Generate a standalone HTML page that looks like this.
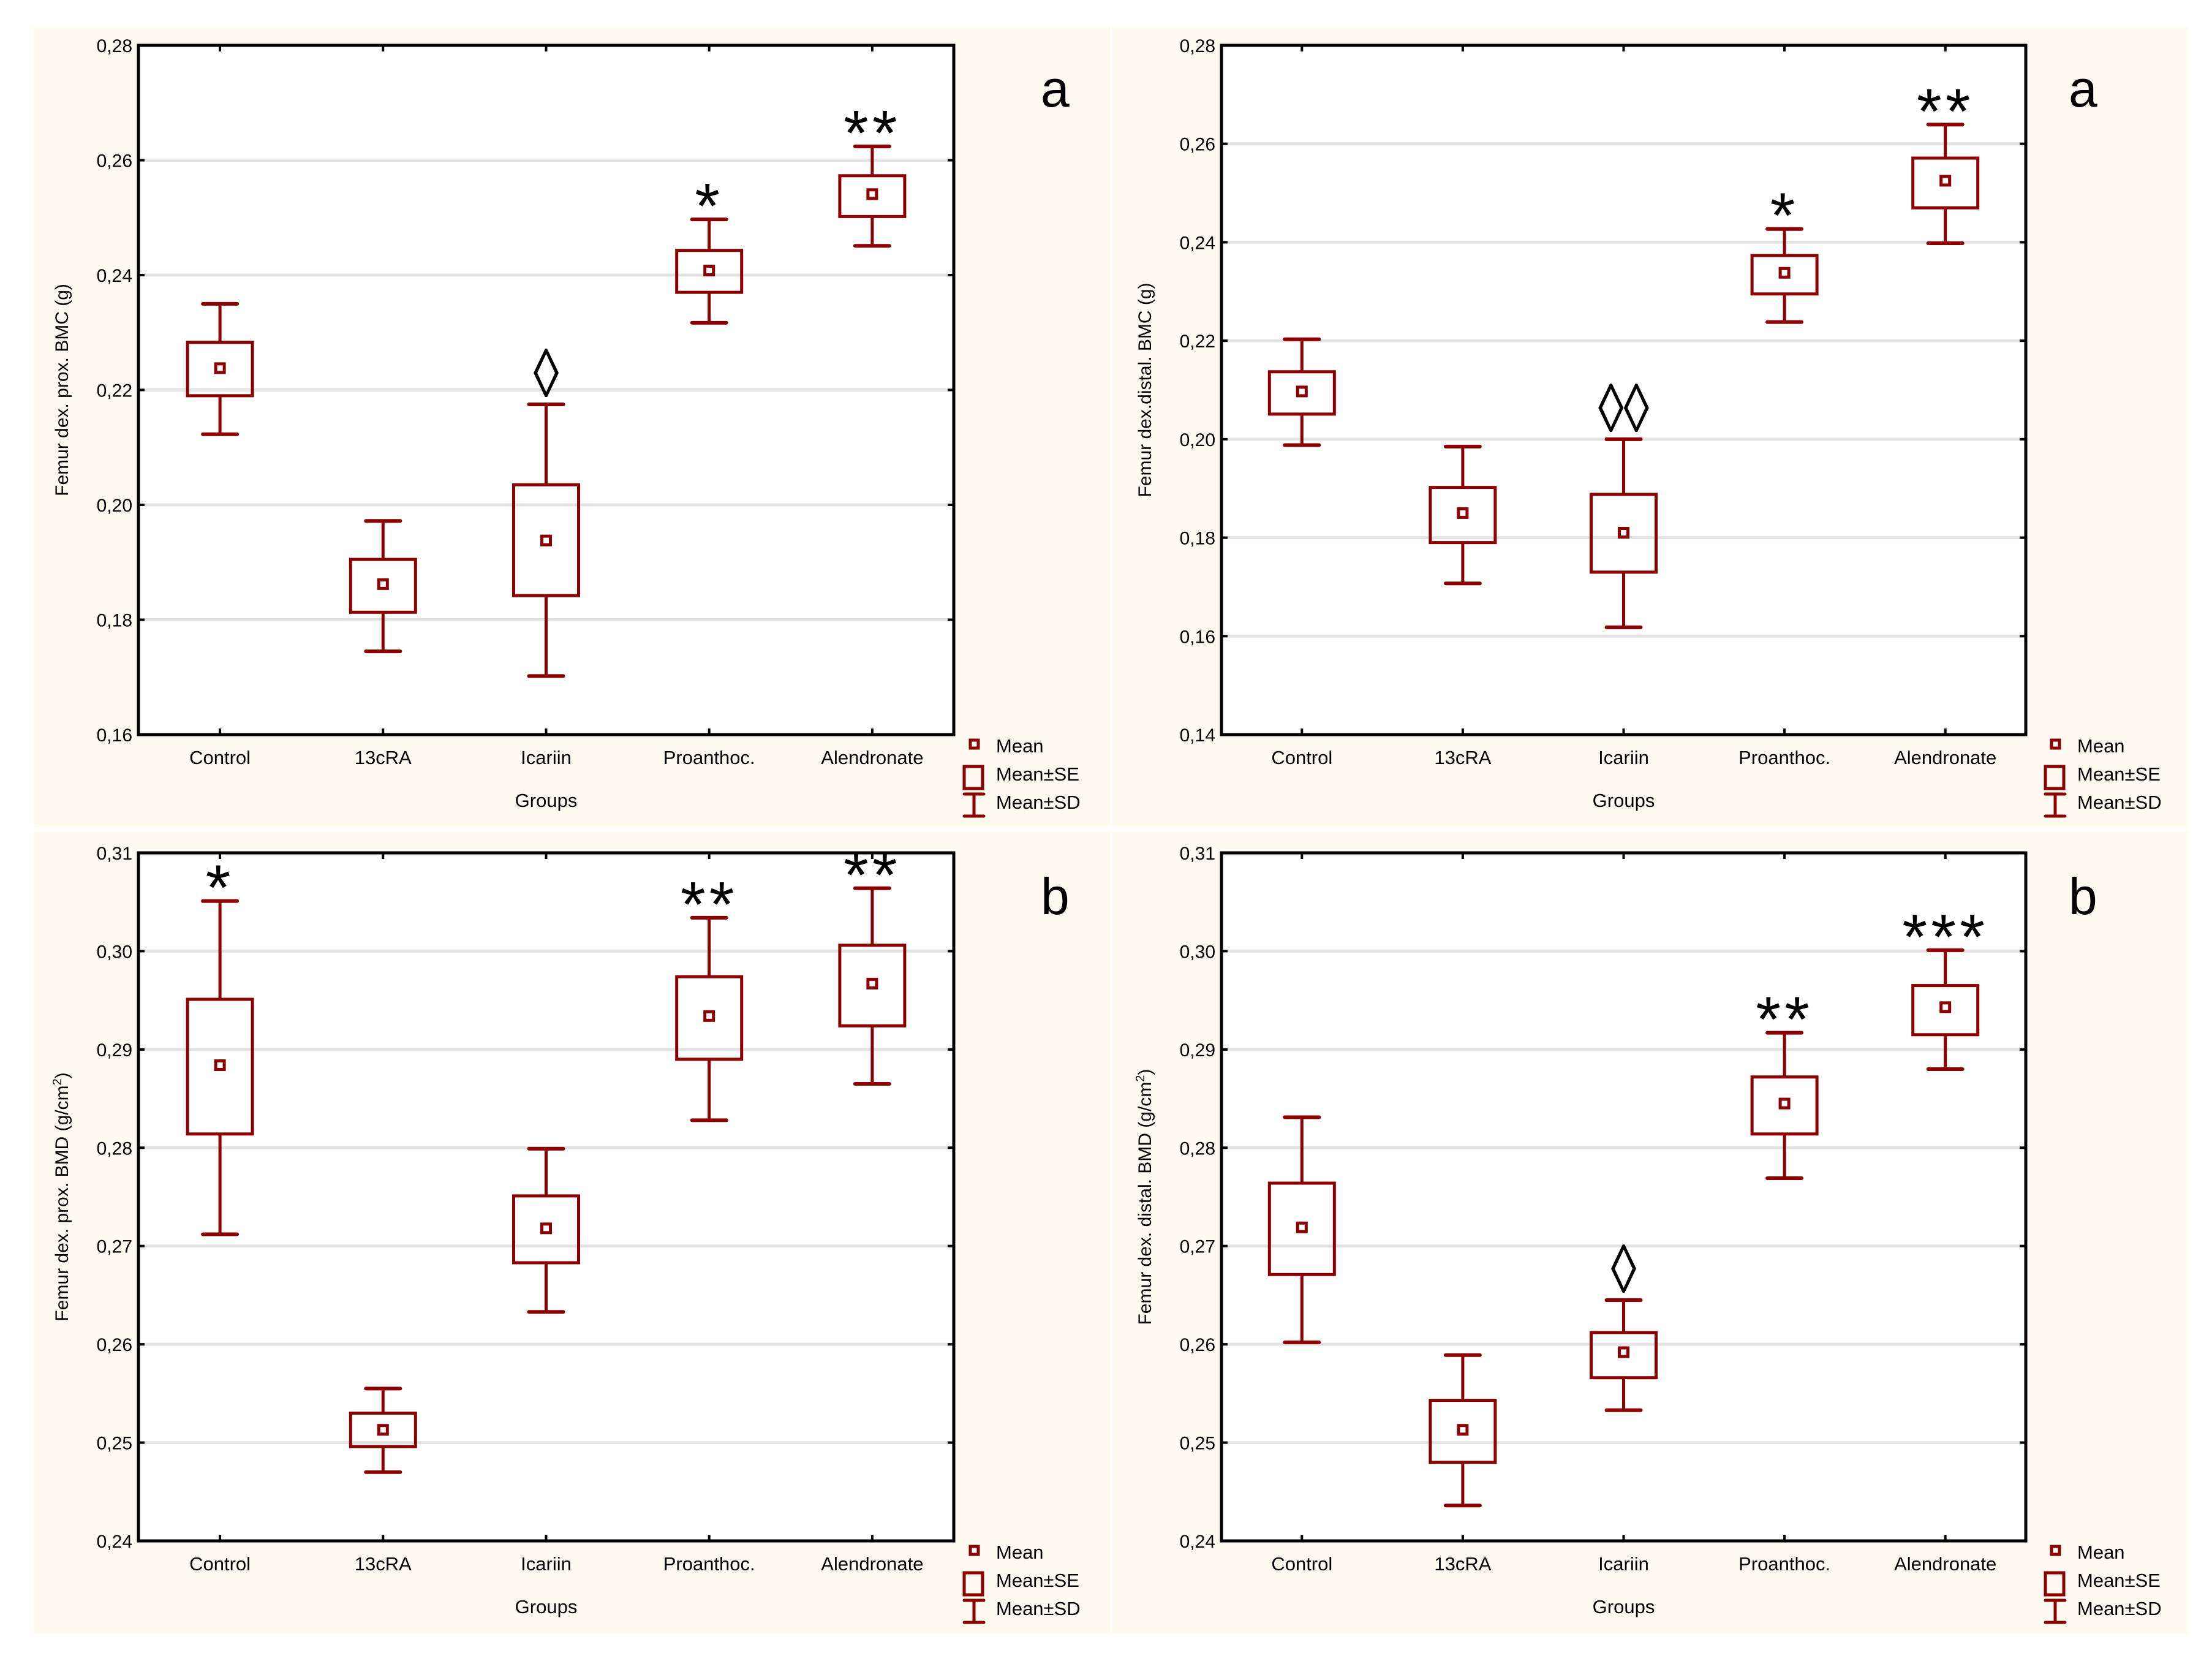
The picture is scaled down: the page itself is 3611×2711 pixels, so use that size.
<!DOCTYPE html>
<html><head><meta charset="utf-8"><style>
html,body{margin:0;padding:0;background:#fff}
svg{display:block}
text{font-family:"Liberation Sans",sans-serif}
</style></head><body>
<svg id="fig" width="3611" height="2711" viewBox="0 0 3611 2711" xmlns="http://www.w3.org/2000/svg"></svg>
<script>
const categories=["Control","13cRA","Icariin","Proanthoc.","Alendronate"];
// panel 1: prox BMC
const p1Mean=[0.2238,0.1862,0.1938,0.2408,0.2541];
const p1SeLo=[0.2190,0.1813,0.1842,0.2370,0.2502];
const p1SeHi=[0.2283,0.1905,0.2035,0.2443,0.2573];
const p1SdLo=[0.2123,0.1745,0.1702,0.2317,0.2451];
const p1SdHi=[0.2350,0.1972,0.2175,0.2497,0.2624];
const p1Marks=["","","◊","*","**"];
const p1Ticks=["0,16","0,18","0,20","0,22","0,24","0,26","0,28"];
// panel 2: distal BMC
const p2Mean=[0.2097,0.1850,0.1810,0.2338,0.2525];
const p2SeLo=[0.2051,0.1790,0.1730,0.2295,0.2470];
const p2SeHi=[0.2137,0.1902,0.1888,0.2373,0.2571];
const p2SdLo=[0.1988,0.1707,0.1618,0.2238,0.2398];
const p2SdHi=[0.2203,0.1985,0.2000,0.2427,0.2639];
const p2Marks=["","","◊◊","*","**"];
const p2Ticks=["0,14","0,16","0,18","0,20","0,22","0,24","0,26","0,28"];
// panel 3: prox BMD
const p3Mean=[0.2884,0.2513,0.2718,0.2934,0.2967];
const p3SeLo=[0.2814,0.2496,0.2683,0.2890,0.2924];
const p3SeHi=[0.2951,0.2530,0.2751,0.2974,0.3006];
const p3SdLo=[0.2712,0.2470,0.2633,0.2828,0.2865];
const p3SdHi=[0.3051,0.2555,0.2799,0.3034,0.3064];
const p3Marks=["*","","","**","**"];
const p3Ticks=["0,24","0,25","0,26","0,27","0,28","0,29","0,30","0,31"];
// panel 4: distal BMD
const p4Mean=[0.2719,0.2513,0.2592,0.2845,0.2943];
const p4SeLo=[0.2671,0.2480,0.2566,0.2814,0.2915];
const p4SeHi=[0.2764,0.2543,0.2612,0.2872,0.2965];
const p4SdLo=[0.2602,0.2436,0.2533,0.2769,0.2880];
const p4SdHi=[0.2831,0.2589,0.2645,0.2917,0.3001];
const p4Marks=["","","◊","**","***"];
const p4Ticks=["0,24","0,25","0,26","0,27","0,28","0,29","0,30","0,31"];

const NS="http://www.w3.org/2000/svg";
const svg=document.getElementById('fig');
const RED="#8b0000";
function mk(tag,attrs,parent,txt){const e=document.createElementNS(NS,tag);for(const k in attrs)e.setAttribute(k,attrs[k]);if(txt!==undefined)e.textContent=txt;(parent||svg).appendChild(e);return e;}

const panels=[
 {bg:[55,44,1757,1306],pl:[226,74,1557,1199],mean:p1Mean,seLo:p1SeLo,seHi:p1SeHi,sdLo:p1SdLo,sdHi:p1SdHi,marks:p1Marks,ticks:p1Ticks,ymin:0.16,ymax:0.28,title:"Femur dex. prox. BMC (g)",letter:"a",sup:false,lo:142,lgo:17},
 {bg:[1815,44,1757,1306],pl:[1994,74,3307,1199],mean:p2Mean,seLo:p2SeLo,seHi:p2SeHi,sdLo:p2SdLo,sdHi:p2SdHi,marks:p2Marks,ticks:p2Ticks,ymin:0.14,ymax:0.28,title:"Femur dex.distal. BMC (g)",letter:"a",sup:false,lo:70,lgo:32},
 {bg:[55,1357,1757,1310],pl:[226,1392,1557,2515],mean:p3Mean,seLo:p3SeLo,seHi:p3SeHi,sdLo:p3SdLo,sdHi:p3SdHi,marks:p3Marks,ticks:p3Ticks,ymin:0.24,ymax:0.31,title:"Femur dex. prox. BMD (g/cm",letter:"b",sup:true,lo:142,lgo:17},
 {bg:[1815,1357,1757,1310],pl:[1994,1392,3307,2515],mean:p4Mean,seLo:p4SeLo,seHi:p4SeHi,sdLo:p4SdLo,sdHi:p4SdHi,marks:p4Marks,ticks:p4Ticks,ymin:0.24,ymax:0.31,title:"Femur dex. distal. BMD (g/cm",letter:"b",sup:true,lo:70,lgo:32}
];

panels.forEach((P,pi)=>{
 const g=mk('g',{});
 
 
 const [x0,y0,x1,y1]=P.pl;
 const bg=mk('rect',{x:P.bg[0],y:P.bg[1],width:P.bg[2],height:P.bg[3],fill:"#fffaf0"},g);
 
 
 const pr=mk('rect',{x:x0,y:y0,width:x1-x0,height:y1-y0,fill:"#fff"},g);
 
 
 const yS=v=>y1-(v-P.ymin)/(P.ymax-P.ymin)*(y1-y0);
 const bw=(x1-x0)/categories.length;
 const xS=i=>x0+bw*(i+0.5);
 const nT=P.ticks.length;
 for(let t=0;t<nT;t++){
  const v=P.ymin+(P.ymax-P.ymin)*t/(nT-1);
  const yy=yS(v);
  if(t>0&&t<nT-1){
   const gl=mk('line',{x1:x0,x2:x1,y1:yy,y2:yy,stroke:"#e3e3e3","stroke-width":5},g);
   
   
  }
  mk('line',{x1:x0,x2:x0+10,y1:yy,y2:yy,stroke:"#000","stroke-width":4},g);
  mk('line',{x1:x1-10,x2:x1,y1:yy,y2:yy,stroke:"#000","stroke-width":4},g);
  const tl=mk('text',{x:x0-10,y:yy+11,"text-anchor":"end","font-size":30},g,P.ticks[t]);
  
  
 }
 categories.forEach((c,i)=>{
  const cx=xS(i);
  mk('line',{x1:cx,x2:cx,y1:y0,y2:y0+10,stroke:"#000","stroke-width":4},g);
  mk('line',{x1:cx,x2:cx,y1:y1-10,y2:y1,stroke:"#000","stroke-width":4},g);
  const xl=mk('text',{x:cx,y:y1+48,"text-anchor":"middle","font-size":31},g,c);
  
  
  const bx=mk('g',{},g);
  
  
  const sdT=yS(P.sdHi[i]),sdB=yS(P.sdLo[i]),seT=yS(P.seHi[i]),seB=yS(P.seLo[i]),m=yS(P.mean[i]);
  mk('line',{x1:cx,x2:cx,y1:sdT,y2:seT,stroke:RED,"stroke-width":5},bx);
  mk('line',{x1:cx,x2:cx,y1:seB,y2:sdB,stroke:RED,"stroke-width":5},bx);
  mk('line',{x1:cx-28,x2:cx+28,y1:sdT,y2:sdT,stroke:RED,"stroke-width":6,"stroke-linecap":"round"},bx);
  mk('line',{x1:cx-28,x2:cx+28,y1:sdB,y2:sdB,stroke:RED,"stroke-width":6,"stroke-linecap":"round"},bx);
  mk('rect',{x:cx-53,y:seT,width:106,height:seB-seT,fill:"none",stroke:RED,"stroke-width":5},bx);
  mk('rect',{x:cx-7,y:m-7,width:14,height:14,fill:"#fff",stroke:RED,"stroke-width":5},bx);
  if(P.marks[i]){
   const isD=P.marks[i].indexOf('◊')>=0;
   let a;
   if(isD){
    a=mk('text',{x:0,y:0,"text-anchor":"middle","font-size":112,"font-family":"DejaVu Sans, sans-serif",transform:`translate(${cx} ${sdT-12}) scale(0.75 1)`},g,P.marks[i]);
   } else {
    a=mk('text',{x:cx,y:sdT+14,"text-anchor":"middle","font-size":105,"letter-spacing":6},g,P.marks[i]);
   }
   
   
  }
 });
 const fr=mk('rect',{x:x0,y:y0,width:x1-x0,height:y1-y0,fill:"none",stroke:"#000","stroke-width":5},g);
 
 
 const xt=mk('text',{x:(x0+x1)/2,y:y1+118,"text-anchor":"middle","font-size":31},g,"Groups");
 
 
 const yc=(y0+y1)/2, yx=x0-115;
 const yt=mk('text',{x:yx,y:yc,"text-anchor":"middle","font-size":30,transform:`rotate(-90 ${yx} ${yc})`},g,P.title);
 if(P.sup){mk('tspan',{"baseline-shift":"super","font-size":20},yt,"2");mk('tspan',{},yt,")");}
 
 
 const lt=mk('text',{x:x1+P.lo,y:y0+100,"font-size":84},g,P.letter);
 
 
 // legend
 const lg=mk('g',{},g);
 
 
 const lx=x1+P.lgo, ly=y1+2;
 mk('rect',{x:lx+10,y:ly+7,width:13,height:13,fill:"#fff",stroke:RED,"stroke-width":5},lg);
 mk('text',{x:lx+52,y:ly+27,"font-size":31},lg,"Mean");
 mk('rect',{x:lx,y:ly+50,width:30,height:36,fill:"none",stroke:RED,"stroke-width":5},lg);
 mk('text',{x:lx+52,y:ly+73,"font-size":31},lg,"Mean±SE");
 mk('line',{x1:lx,x2:lx+32,y1:ly+95,y2:ly+95,stroke:RED,"stroke-width":5,"stroke-linecap":"round"},lg);
 mk('line',{x1:lx+16,x2:lx+16,y1:ly+95,y2:ly+131,stroke:RED,"stroke-width":5},lg);
 mk('line',{x1:lx,x2:lx+32,y1:ly+131,y2:ly+131,stroke:RED,"stroke-width":5,"stroke-linecap":"round"},lg);
 mk('text',{x:lx+52,y:ly+119,"font-size":31},lg,"Mean±SD");
});
</script>
</body></html>
